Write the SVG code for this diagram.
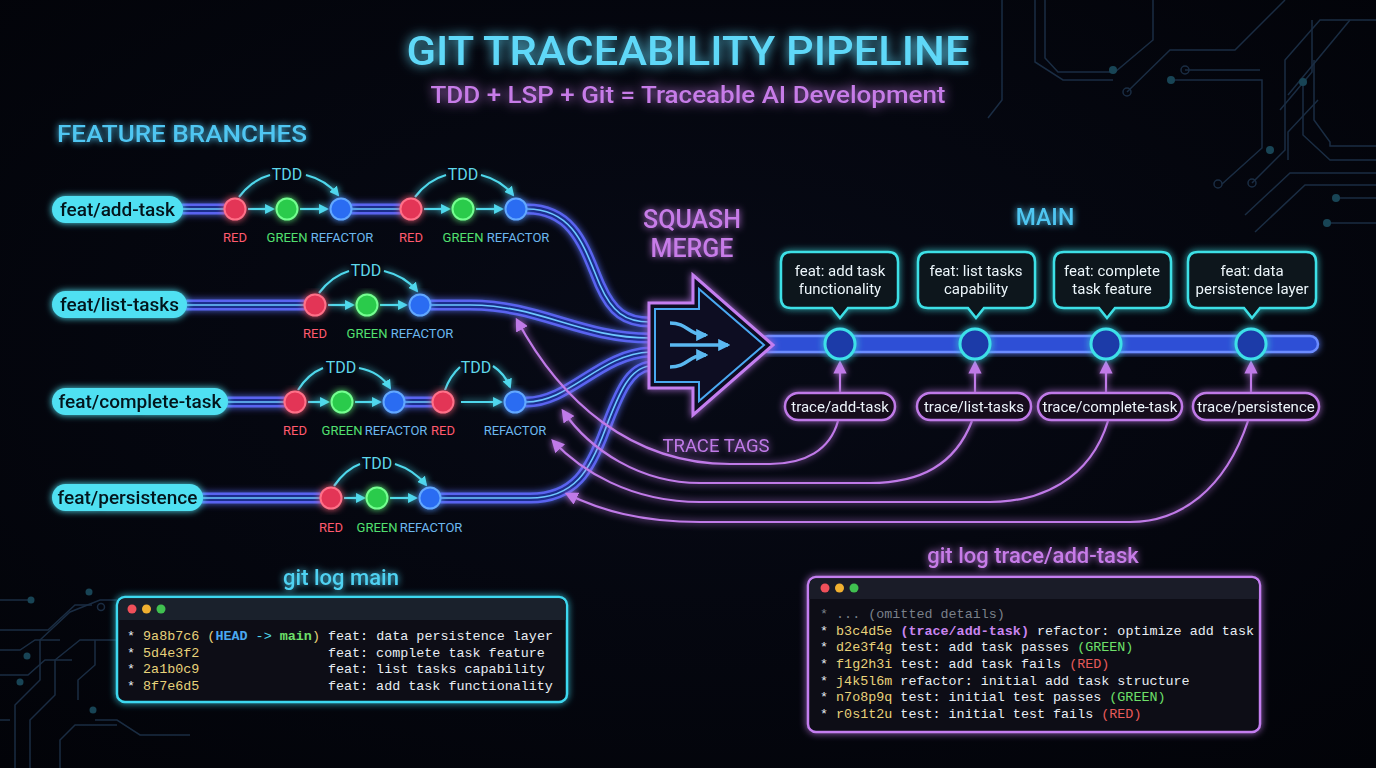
<svg xmlns="http://www.w3.org/2000/svg" width="1376" height="768" viewBox="0 0 1376 768">
<defs>
<radialGradient id="bg" cx="0.5" cy="0.45" r="0.75">
<stop offset="0" stop-color="#070a16"/>
<stop offset="1" stop-color="#020308"/>
</radialGradient>
<filter id="glow" x="-30%" y="-30%" width="160%" height="160%">
<feGaussianBlur in="SourceGraphic" stdDeviation="3.5" result="b"/>
<feMerge><feMergeNode in="b"/><feMergeNode in="SourceGraphic"/></feMerge>
</filter>
<filter id="glow2" x="-30%" y="-60%" width="160%" height="220%">
<feGaussianBlur in="SourceGraphic" stdDeviation="6" result="b"/>
<feMerge><feMergeNode in="b"/><feMergeNode in="SourceGraphic"/></feMerge>
</filter>
<marker id="ac" viewBox="0 0 10 10" refX="8" refY="5" markerWidth="4.5" markerHeight="4.5" orient="auto"><path d="M0,0 L10,5 L0,10 z" fill="#4fd8ec"/></marker>
<marker id="am" viewBox="0 0 10 10" refX="8" refY="5" markerWidth="6" markerHeight="6" orient="auto"><path d="M0,0 L10,5 L0,10 z" fill="#c07ae8"/></marker>
<marker id="ai" viewBox="0 0 10 10" refX="8" refY="5" markerWidth="3.5" markerHeight="3.5" orient="auto"><path d="M0,0 L10,5 L0,10 z" fill="#5ab8f0"/></marker>
<style>
.sans{font-family:Roboto,"Liberation Sans",sans-serif}
.mono{font-family:"Liberation Mono","DejaVu Sans Mono",monospace;font-size:13.4px}
.title{font-size:40px;font-weight:500;fill:#5fd8f8}
.sub{font-size:24px;font-weight:500;fill:#c77be8}
.sq{font-size:25px;font-weight:500;fill:#c77be8}
.hdr{font-size:23px;font-weight:500;fill:#4fc6f2}
.pill{fill:#4fe0f2}
.pilltxt{font-size:19px;font-weight:500;fill:#06141c}
.line1{fill:none;stroke:#5a64f0;stroke-width:11;stroke-linecap:round}
.line2{fill:none;stroke:#1d2d8c;stroke-width:6}
.line3{fill:none;stroke:#6ec8ff;stroke-width:1.6}
.red{fill:#e33556;stroke:#ff7088;stroke-width:2}
.green{fill:#2ccb4c;stroke:#74ff90;stroke-width:2}
.blue{fill:#2a6cf2;stroke:#62a8ff;stroke-width:2}
.lr{font-size:13px;fill:#ff5a6e}
.lg{font-size:13px;fill:#52e070}
.lb{font-size:13px;fill:#6cb8f0}
.tdd{font-size:16px;fill:#5fd8ea}
.ca{fill:none;stroke:#4fd8ec;stroke-width:2.2}
.box{fill:#08141c;stroke:#3ee0e6;stroke-width:2.5}
.boxtxt{font-size:15px;fill:#eef6fa}
.tpill{fill:#120a1e;stroke:#c07ae8;stroke-width:2.5}
.tarc{fill:none;stroke:#c07ae8;stroke-width:2.2}
.circ{fill:none;stroke:#223a55;stroke-width:1.5}
.dot{fill:#1f5a6e}
.w{fill:#e8eef4}
.y{fill:#e8d27a}
</style>
</defs>

<rect width="1376" height="768" fill="url(#bg)"/>

<!-- background circuit traces -->
<g id="circuit" opacity="0.75">
<path class="circ" d="M1035,0 V62 L1063,80 H1113"/>
<path class="circ" d="M1002,0 V100 L988,118"/>
<path class="circ" d="M1045,0 V58 L1058,72 H1115 L1153,40 V0"/>
<path class="circ" d="M1127,92 L1170,50 H1235 L1285,0"/>
<path class="circ" d="M1171,80 H1262 V148 L1222,184"/>
<path class="circ" d="M1185,70 H1260"/>
<path class="circ" d="M1288,95 L1350,20"/>
<path class="circ" d="M1280,110 L1312,72 V20"/>
<path class="circ" d="M1288,160 V132 L1318,100"/>
<path class="circ" d="M1303,82 V135 L1330,160 H1376"/>
<path class="circ" d="M1314,60 V120 L1330,142 V146 H1376"/>
<path class="circ" d="M1252,183 L1285,150 V60 L1320,20 H1376"/>
<path class="circ" d="M1245,215 L1290,173 H1376"/>
<path class="circ" d="M1255,232 L1305,185 H1376"/>
<path class="circ" d="M1336,198 H1376"/>
<path class="circ" d="M1327,223 H1376"/>
<circle class="dot" cx="1113" cy="70" r="4"/>
<circle class="dot" cx="1171" cy="80" r="4"/>
<circle class="dot" cx="1303" cy="82" r="4"/>
<circle class="dot" cx="1270" cy="150" r="4"/>
<circle class="dot" cx="1336" cy="198" r="4"/>
<circle class="dot" cx="1327" cy="223" r="4"/>
<circle class="circ" cx="1127" cy="92" r="4"/>
<circle class="circ" cx="1185" cy="70" r="4"/>
<circle class="circ" cx="1218" cy="184" r="4"/>
<circle class="circ" cx="1252" cy="183" r="4"/>
<path class="circ" d="M0,600 H30"/>
<path class="circ" d="M0,630 H48 L75,605 H92"/>
<path class="circ" d="M0,650 H20 L35,640 H60"/>
<path class="circ" d="M0,675 H28 L45,660 H72"/>
<path class="circ" d="M15,768 V705 L40,680 V640 L70,612 L100,600 H117"/>
<path class="circ" d="M30,768 V720 L55,695 V660 L80,640 H117"/>
<path class="circ" d="M60,768 V740 L75,725 H117"/>
<path class="circ" d="M78,700 V680 L95,665 V640"/>
<path class="circ" d="M95,720 H117 L140,735 H190"/>
<path class="circ" d="M0,720 H10"/>
<circle class="dot" cx="31" cy="600" r="3.5"/>
<circle class="dot" cx="89" cy="592" r="3.5"/>
<circle class="dot" cx="27" cy="656" r="3.5"/>
<circle class="dot" cx="20" cy="682" r="3.5"/>
<circle class="dot" cx="93" cy="710" r="3.5"/>
<circle class="circ" cx="101" cy="607" r="3.5"/>
</g>

<!-- titles -->
<g id="title" filter="url(#glow2)">
<text class="sans title" x="688" y="65" text-anchor="middle" textLength="563" lengthAdjust="spacingAndGlyphs">GIT TRACEABILITY PIPELINE</text>
<text class="sans sub" x="688" y="103" text-anchor="middle" textLength="515" lengthAdjust="spacingAndGlyphs">TDD + LSP + Git = Traceable AI Development</text>
</g>
<text id="hdr-feature" class="sans hdr" x="57" y="142" textLength="250" lengthAdjust="spacingAndGlyphs" filter="url(#glow)">FEATURE BRANCHES</text>
<g id="hdr-squash" filter="url(#glow)">
<text class="sans sq" x="692" y="228" text-anchor="middle">SQUASH</text>
<text class="sans sq" x="692" y="257" text-anchor="middle">MERGE</text>
</g>
<text id="hdr-main" class="sans hdr" x="1045" y="225" text-anchor="middle" filter="url(#glow)">MAIN</text>

<!-- connectors -->
<g id="connectors">
<g id="branch-lines" filter="url(#glow)">
<path class="line1" d="M183,209 H224 M352,209 H400 M527,209 C575,209 585,250 600,285 C612,312 625,322 650,322"/>
<path class="line2" d="M183,209 H224 M352,209 H400 M527,209 C575,209 585,250 600,285 C612,312 625,322 650,322"/>
<path class="line3" d="M183,209 H224 M352,209 H400 M527,209 C575,209 585,250 600,285 C612,312 625,322 650,322"/>
<path class="line1" d="M187,305 H304 M431,305 H470 C540,305 580,338 650,338"/>
<path class="line2" d="M187,305 H304 M431,305 H470 C540,305 580,338 650,338"/>
<path class="line3" d="M187,305 H304 M431,305 H470 C540,305 580,338 650,338"/>
<path class="line1" d="M228,402 H284 M405,402 H432 M526,402 C570,402 600,354 650,352"/>
<path class="line2" d="M228,402 H284 M405,402 H432 M526,402 C570,402 600,354 650,352"/>
<path class="line3" d="M228,402 H284 M405,402 H432 M526,402 C570,402 600,354 650,352"/>
<path class="line1" d="M203,498 H320 M441,498 H530 C575,498 590,470 605,430 C620,390 630,368 650,366"/>
<path class="line2" d="M203,498 H320 M441,498 H530 C575,498 590,470 605,430 C620,390 630,368 650,366"/>
<path class="line3" d="M203,498 H320 M441,498 H530 C575,498 590,470 605,430 C620,390 630,368 650,366"/>
</g>
<g id="tdd-arrows" filter="url(#glow)">
<line class="ca" x1="248" y1="209" x2="273" y2="209" marker-end="url(#ac)"/>
<line class="ca" x1="300" y1="209" x2="327" y2="209" marker-end="url(#ac)"/>
<line class="ca" x1="424" y1="209" x2="449" y2="209" marker-end="url(#ac)"/>
<line class="ca" x1="476" y1="209" x2="502" y2="209" marker-end="url(#ac)"/>
<path class="ca" d="M239,197 Q252,180 270,175"/>
<path class="ca" d="M306,175 Q326,180 338,195" marker-end="url(#ac)"/>
<path class="ca" d="M415,197 Q428,180 446,175"/>
<path class="ca" d="M481,175 Q501,180 513,195" marker-end="url(#ac)"/>
<line class="ca" x1="328" y1="305" x2="353" y2="305" marker-end="url(#ac)"/>
<line class="ca" x1="380" y1="305" x2="406" y2="305" marker-end="url(#ac)"/>
<path class="ca" d="M319,293 Q332,276 349,271"/>
<path class="ca" d="M384,271 Q405,276 417,291" marker-end="url(#ac)"/>
<line class="ca" x1="308" y1="402" x2="328" y2="402" marker-end="url(#ac)"/>
<line class="ca" x1="355" y1="402" x2="380" y2="402" marker-end="url(#ac)"/>
<line class="ca" x1="461" y1="402" x2="501" y2="402" marker-end="url(#ac)"/>
<path class="ca" d="M298,390 Q308,374 323,368"/>
<path class="ca" d="M359,368 Q380,372 390,388" marker-end="url(#ac)"/>
<path class="ca" d="M445,390 Q450,376 460,367"/>
<path class="ca" d="M493,366 Q505,374 510,387" marker-end="url(#ac)"/>
<line class="ca" x1="344" y1="498" x2="364" y2="498" marker-end="url(#ac)"/>
<line class="ca" x1="390" y1="498" x2="416" y2="498" marker-end="url(#ac)"/>
<path class="ca" d="M334,486 Q346,469 360,464"/>
<path class="ca" d="M395,464 Q414,470 426,485" marker-end="url(#ac)"/>
</g>
<g id="main-line" filter="url(#glow)">
<rect x="760" y="336" width="558" height="16" rx="8" fill="#2f4fd6" stroke="#6c8cff" stroke-width="2.5"/>
</g>
<g id="trace-up" filter="url(#glow)">
<line class="tarc" x1="840" y1="393" x2="840" y2="363" marker-end="url(#am)"/>
<line class="tarc" x1="975" y1="393" x2="975" y2="363" marker-end="url(#am)"/>
<line class="tarc" x1="1106" y1="393" x2="1106" y2="363" marker-end="url(#am)"/>
<line class="tarc" x1="1251" y1="393" x2="1251" y2="363" marker-end="url(#am)"/>
</g>
<g id="trace-arcs" filter="url(#glow)">
<path class="tarc" d="M838,421 C830,450 805,464 770,464 L730,464 C630,464 560,400 517,320" marker-end="url(#am)"/>
<path class="tarc" d="M972,421 C955,465 920,483 870,483 L700,483 C640,483 590,450 563,411" marker-end="url(#am)"/>
<path class="tarc" d="M1108,421 C1090,480 1040,502 990,502 L700,502 C630,502 580,470 553,441" marker-end="url(#am)"/>
<path class="tarc" d="M1248,421 C1225,490 1180,522 1130,522 L700,522 C640,522 600,510 567,494" marker-end="url(#am)"/>
</g>
<text id="trace-tags" class="sans" x="716" y="452" text-anchor="middle" font-size="18.5" fill="#c07ae8" filter="url(#glow)">TRACE TAGS</text>
</g>

<!-- branch pills -->
<g id="branch-add-task" filter="url(#glow)">
<rect class="pill" x="52" y="196" width="131" height="27" rx="13.5"/>
<text class="sans pilltxt" x="117.5" y="216" text-anchor="middle">feat/add-task</text>
</g>
<g id="branch-list-tasks" filter="url(#glow)">
<rect class="pill" x="52" y="291" width="135" height="27" rx="13.5"/>
<text class="sans pilltxt" x="119.5" y="311" text-anchor="middle">feat/list-tasks</text>
</g>
<g id="branch-complete-task" filter="url(#glow)">
<rect class="pill" x="52" y="388" width="176" height="27" rx="13.5"/>
<text class="sans pilltxt" x="140" y="408" text-anchor="middle">feat/complete-task</text>
</g>
<g id="branch-persistence" filter="url(#glow)">
<rect class="pill" x="52" y="484" width="151" height="27" rx="13.5"/>
<text class="sans pilltxt" x="127.5" y="504" text-anchor="middle">feat/persistence</text>
</g>

<!-- commit nodes -->
<g id="row1-nodes" filter="url(#glow)">
<circle class="red" cx="235" cy="209" r="10.5"/>
<circle class="green" cx="287" cy="209" r="10.5"/>
<circle class="blue" cx="341" cy="209" r="10.5"/>
<circle class="red" cx="411" cy="209" r="10.5"/>
<circle class="green" cx="463" cy="209" r="10.5"/>
<circle class="blue" cx="516" cy="209" r="10.5"/>
</g>
<g id="row1-labels" class="sans">
<text class="tdd" x="287" y="180" text-anchor="middle">TDD</text>
<text class="tdd" x="463" y="180" text-anchor="middle">TDD</text>
<text class="lr" x="235" y="242" text-anchor="middle">RED</text>
<text class="lg" x="287" y="242" text-anchor="middle">GREEN</text>
<text class="lb" x="342" y="242" text-anchor="middle">REFACTOR</text>
<text class="lr" x="411" y="242" text-anchor="middle">RED</text>
<text class="lg" x="463" y="242" text-anchor="middle">GREEN</text>
<text class="lb" x="518" y="242" text-anchor="middle">REFACTOR</text>
</g>
<g id="row2-nodes" filter="url(#glow)">
<circle class="red" cx="315" cy="305" r="10.5"/>
<circle class="green" cx="367" cy="305" r="10.5"/>
<circle class="blue" cx="420" cy="305" r="10.5"/>
</g>
<g id="row2-labels" class="sans">
<text class="tdd" x="366" y="276" text-anchor="middle">TDD</text>
<text class="lr" x="315" y="338" text-anchor="middle">RED</text>
<text class="lg" x="367" y="338" text-anchor="middle">GREEN</text>
<text class="lb" x="422" y="338" text-anchor="middle">REFACTOR</text>
</g>
<g id="row3-nodes" filter="url(#glow)">
<circle class="red" cx="295" cy="402" r="10.5"/>
<circle class="green" cx="342" cy="402" r="10.5"/>
<circle class="blue" cx="394" cy="402" r="10.5"/>
<circle class="red" cx="443" cy="402" r="10.5"/>
<circle class="blue" cx="515" cy="402" r="10.5"/>
</g>
<g id="row3-labels" class="sans">
<text class="tdd" x="341" y="373" text-anchor="middle">TDD</text>
<text class="tdd" x="476" y="373" text-anchor="middle">TDD</text>
<text class="lr" x="295" y="435" text-anchor="middle">RED</text>
<text class="lg" x="342" y="435" text-anchor="middle">GREEN</text>
<text class="lb" x="396" y="435" text-anchor="middle">REFACTOR</text>
<text class="lr" x="443" y="435" text-anchor="middle">RED</text>
<text class="lb" x="515" y="435" text-anchor="middle">REFACTOR</text>
</g>
<g id="row4-nodes" filter="url(#glow)">
<circle class="red" cx="331" cy="498" r="10.5"/>
<circle class="green" cx="377" cy="498" r="10.5"/>
<circle class="blue" cx="430" cy="498" r="10.5"/>
</g>
<g id="row4-labels" class="sans">
<text class="tdd" x="377" y="469" text-anchor="middle">TDD</text>
<text class="lr" x="331" y="532" text-anchor="middle">RED</text>
<text class="lg" x="377" y="532" text-anchor="middle">GREEN</text>
<text class="lb" x="431" y="532" text-anchor="middle">REFACTOR</text>
</g>

<!-- squash merge arrow -->
<g id="squash-merge" filter="url(#glow)">
<path d="M649,303 H693 V275 L773,345 L693,415 V388 H649 Z" fill="#0c0a24" stroke="#c47ef0" stroke-width="3" stroke-linejoin="miter"/>
<path d="M655,309 H699 V289 L764,345 L699,401 V382 H655 Z" fill="none" stroke="#4aa8f0" stroke-width="2"/>
<path d="M670,323 C688,323 688,335 706,335" fill="none" stroke="#5ab8f0" stroke-width="3.5" marker-end="url(#ai)"/>
<line x1="670" y1="345" x2="728" y2="345" stroke="#5ab8f0" stroke-width="3.5" marker-end="url(#ai)"/>
<path d="M670,367 C688,367 688,355 706,355" fill="none" stroke="#5ab8f0" stroke-width="3.5" marker-end="url(#ai)"/>
</g>

<!-- main commits -->
<g id="main-commit-1" filter="url(#glow)">
<circle cx="840" cy="344" r="15" fill="#1c3aa8" stroke="#3ee0e8" stroke-width="3"/>
<path class="box" d="M791,252 H888 Q898,252 898,262 V298 Q898,308 888,308 H848 L840,318 L832,308 H791 Q781,308 781,298 V262 Q781,252 791,252 Z"/>
<text class="sans boxtxt" x="840" y="276" text-anchor="middle">feat: add task</text>
<text class="sans boxtxt" x="840" y="294" text-anchor="middle">functionality</text>
</g>
<g id="main-commit-2" filter="url(#glow)">
<circle cx="975" cy="344" r="15" fill="#1c3aa8" stroke="#3ee0e8" stroke-width="3"/>
<path class="box" d="M928,252 H1025 Q1035,252 1035,262 V298 Q1035,308 1025,308 H984 L976,318 L968,308 H928 Q918,308 918,298 V262 Q918,252 928,252 Z"/>
<text class="sans boxtxt" x="976" y="276" text-anchor="middle">feat: list tasks</text>
<text class="sans boxtxt" x="976" y="294" text-anchor="middle">capability</text>
</g>
<g id="main-commit-3" filter="url(#glow)">
<circle cx="1106" cy="344" r="15" fill="#1c3aa8" stroke="#3ee0e8" stroke-width="3"/>
<path class="box" d="M1064,252 H1161 Q1171,252 1171,262 V298 Q1171,308 1161,308 H1115 L1107,318 L1099,308 H1064 Q1054,308 1054,298 V262 Q1054,252 1064,252 Z"/>
<text class="sans boxtxt" x="1112" y="276" text-anchor="middle">feat: complete</text>
<text class="sans boxtxt" x="1112" y="294" text-anchor="middle">task feature</text>
</g>
<g id="main-commit-4" filter="url(#glow)">
<circle cx="1251" cy="344" r="15" fill="#1c3aa8" stroke="#3ee0e8" stroke-width="3"/>
<path class="box" d="M1198,252 H1306 Q1316,252 1316,262 V298 Q1316,308 1306,308 H1260 L1252,318 L1244,308 H1198 Q1188,308 1188,298 V262 Q1188,252 1198,252 Z"/>
<text class="sans boxtxt" x="1252" y="276" text-anchor="middle">feat: data</text>
<text class="sans boxtxt" x="1252" y="294" text-anchor="middle">persistence layer</text>
</g>

<!-- trace tags -->
<g id="tag-add-task" filter="url(#glow)">
<rect class="tpill" x="785" y="393" width="110" height="27" rx="13.5"/>
<text class="sans boxtxt" x="840" y="412" text-anchor="middle">trace/add-task</text>
</g>
<g id="tag-list-tasks" filter="url(#glow)">
<rect class="tpill" x="917" y="393" width="114" height="27" rx="13.5"/>
<text class="sans boxtxt" x="974" y="412" text-anchor="middle">trace/list-tasks</text>
</g>
<g id="tag-complete-task" filter="url(#glow)">
<rect class="tpill" x="1038" y="393" width="144" height="27" rx="13.5"/>
<text class="sans boxtxt" x="1110" y="412" text-anchor="middle">trace/complete-task</text>
</g>
<g id="tag-persistence" filter="url(#glow)">
<rect class="tpill" x="1193" y="393" width="126" height="27" rx="13.5"/>
<text class="sans boxtxt" x="1256" y="412" text-anchor="middle">trace/persistence</text>
</g>

<!-- git log main window -->
<g id="gitlog-main">
<text class="sans" x="341" y="585" text-anchor="middle" font-size="22" font-weight="500" fill="#4fd2f2" filter="url(#glow)">git log main</text>
<rect x="117" y="597" width="450" height="105" rx="8" fill="#080c14" stroke="#3ed8f0" stroke-width="2.5" filter="url(#glow)"/>
<path d="M125,598.5 H559 Q565.5,598.5 565.5,605 V620 H118.5 V605 Q118.5,598.5 125,598.5 Z" fill="#1a212c"/>
<circle cx="132" cy="609" r="4.5" fill="#f0505a"/>
<circle cx="146.5" cy="609" r="4.5" fill="#f0b030"/>
<circle cx="161" cy="609" r="4.5" fill="#40c050"/>
<text class="mono w" x="127" y="640" xml:space="preserve">* <tspan class="y">9a8b7c6 (</tspan><tspan fill="#4aa8f0" font-weight="bold">HEAD</tspan> <tspan fill="#4fd8ec">-&gt;</tspan> <tspan fill="#6ee06a" font-weight="bold">main</tspan><tspan class="y">)</tspan> feat: data persistence layer</text>
<text class="mono w" x="127" y="657" xml:space="preserve">* <tspan class="y">5d4e3f2</tspan>                feat: complete task feature</text>
<text class="mono w" x="127" y="673" xml:space="preserve">* <tspan class="y">2a1b0c9</tspan>                feat: list tasks capability</text>
<text class="mono w" x="127" y="690" xml:space="preserve">* <tspan class="y">8f7e6d5</tspan>                feat: add task functionality</text>
</g>

<!-- git log trace window -->
<g id="gitlog-trace">
<text class="sans" x="1033" y="563" text-anchor="middle" font-size="22" font-weight="500" fill="#c77be8" filter="url(#glow)">git log trace/add-task</text>
<rect x="808" y="577" width="452" height="155" rx="8" fill="#080a12" stroke="#c47ef0" stroke-width="2.5" filter="url(#glow)"/>
<path d="M816,578.5 H1252 Q1258.5,578.5 1258.5,585 V599 H809.5 V585 Q809.5,578.5 816,578.5 Z" fill="#1a1c28"/>
<circle cx="825" cy="588" r="4.5" fill="#f0505a"/>
<circle cx="839.5" cy="588" r="4.5" fill="#f0b030"/>
<circle cx="854" cy="588" r="4.5" fill="#40c050"/>
<text class="mono" x="820" y="618" fill="#7a808a" xml:space="preserve">* ... (omitted details)</text>
<text class="mono w" x="820" y="635" xml:space="preserve">* <tspan class="y">b3c4d5e</tspan> <tspan fill="#c985f0" font-weight="bold">(trace/add-task)</tspan> refactor: optimize add task</text>
<text class="mono w" x="820" y="651" xml:space="preserve">* <tspan class="y">d2e3f4g</tspan> test: add task passes <tspan fill="#6ee06a">(GREEN)</tspan></text>
<text class="mono w" x="820" y="668" xml:space="preserve">* <tspan class="y">f1g2h3i</tspan> test: add task fails <tspan fill="#e85a5a">(RED)</tspan></text>
<text class="mono w" x="820" y="685" xml:space="preserve">* <tspan class="y">j4k5l6m</tspan> refactor: initial add task structure</text>
<text class="mono w" x="820" y="701" xml:space="preserve">* <tspan class="y">n7o8p9q</tspan> test: initial test passes <tspan fill="#6ee06a">(GREEN)</tspan></text>
<text class="mono w" x="820" y="718" xml:space="preserve">* <tspan class="y">r0s1t2u</tspan> test: initial test fails <tspan fill="#e85a5a">(RED)</tspan></text>
</g>
</svg>
